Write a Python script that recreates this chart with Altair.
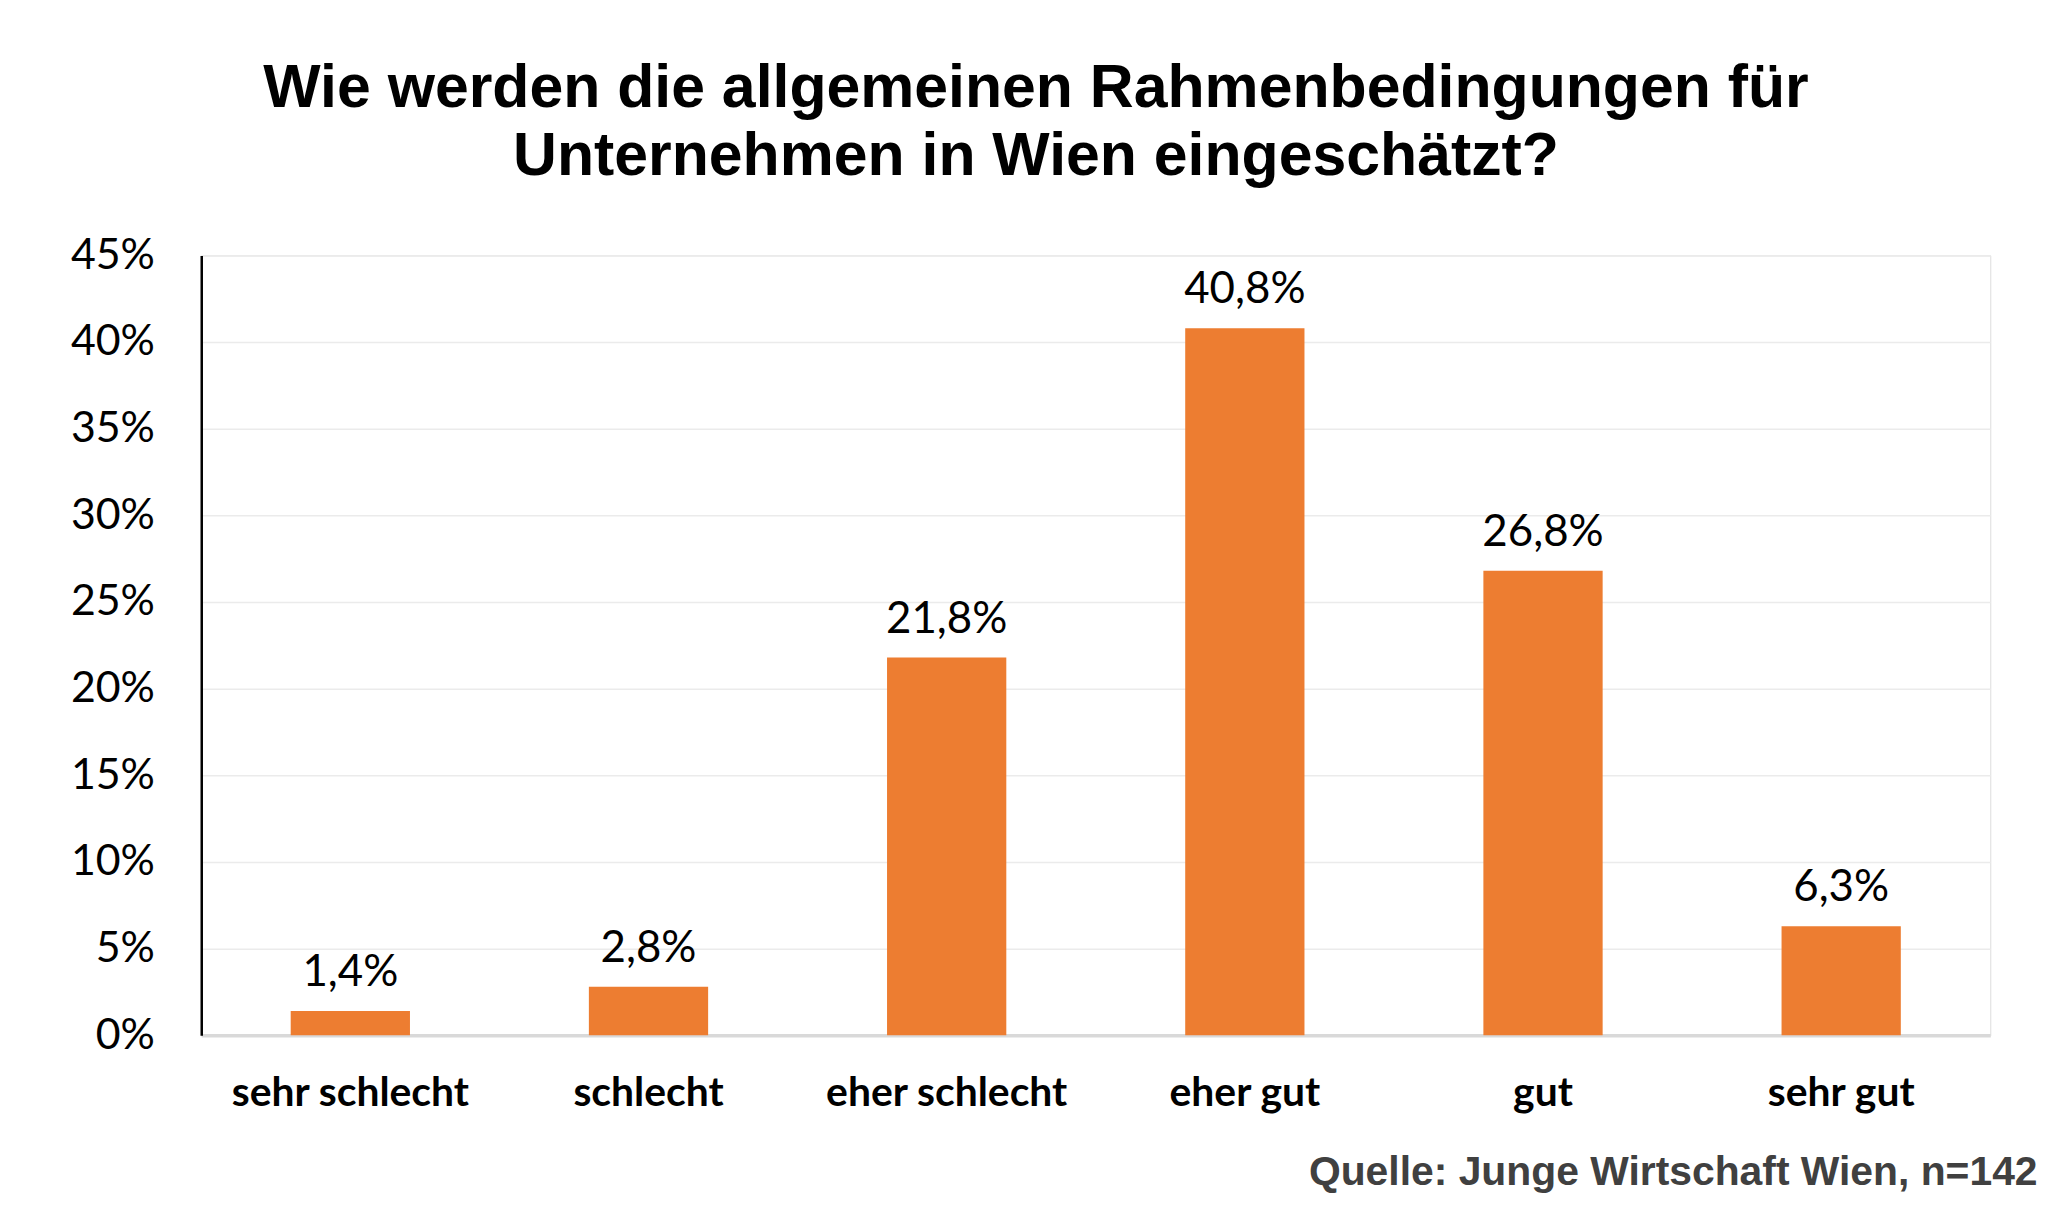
import altair as alt
import pandas as pd

categories = ["sehr schlecht", "schlecht", "eher schlecht", "eher gut", "gut", "sehr gut"]
values = [1.4, 2.8, 21.8, 40.8, 26.8, 6.3]
value_labels = ["1,4%", "2,8%", "21,8%", "40,8%", "26,8%", "6,3%"]
y_ticks = [0, 5, 10, 15, 20, 25, 30, 35, 40, 45]

df = pd.DataFrame({"cat": categories, "val": values, "lab": value_labels})

W, H = 1796, 783

base = alt.Chart(df).encode(
    x=alt.X(
        "cat:N",
        sort=None,
        scale=alt.Scale(paddingInner=0.6, paddingOuter=0.3),
        axis=alt.Axis(
            title="Quelle: Junge Wirtschaft Wien, n=142",
            titleFont="Liberation Sans",
            titleFontWeight="bold",
            titleFontSize=41,
            titleColor="#404040",
            titleAnchor="end",
            titleAlign="right",
            titleBaseline="alphabetic",
            titleX=1843,
            titleY=150,
            labelFont="Lato",
            labelFontWeight="bold",
            labelFontSize=41,
            labelColor="#000000",
            labelBaseline="alphabetic",
            labelPadding=70,
            labelAngle=0,
            labelLimit=0,
            ticks=False,
            tickSize=0,
            domainColor="#d9d9d9",
            domainWidth=3.5,
            grid=False,
        ),
    ),
    y=alt.Y(
        "val:Q",
        scale=alt.Scale(domain=[0, 45], nice=False),
        axis=alt.Axis(
            title=None,
            values=y_ticks,
            labelExpr="datum.value + '%'",
            labelFont="Lato",
            labelFontSize=43,
            labelColor="#000000",
            labelPadding=47,
            labelBaseline="middle",
            ticks=False,
            tickSize=0,
            domainColor="#000000",
            domainWidth=2.5,
            grid=True,
            gridColor="#ebebeb",
            gridWidth=1.5,
        ),
    ),
)

bars = base.mark_bar(color="#ED7D31")
texts = base.mark_text(
    font="Lato", fontSize=44, color="#000000", baseline="alphabetic", dy=-25
).encode(text="lab:N")

chart = (
    alt.layer(bars, texts)
    .properties(
        width=W,
        height=H,
        title=alt.TitleParams(
            text=["Wie werden die allgemeinen Rahmenbedingungen für", "Unternehmen in Wien eingeschätzt?"],
            font="Liberation Sans",
            fontWeight="bold",
            fontSize=61,
            lineHeight=68,
            color="#000000",
            anchor="middle",
            frame="group",
            dx=-60,
            offset=47,
        ),
        padding={"left": 194, "top": 246, "right": 69, "bottom": 175},
        autosize=alt.AutoSizeParams(type="none"),
    )
    .configure_view(stroke=None)
    .configure(background="#ffffff")
)

chart.save("out.html", embed_options={"renderer": "svg", "actions": False})
